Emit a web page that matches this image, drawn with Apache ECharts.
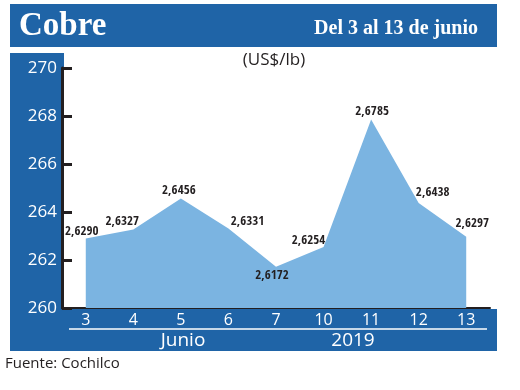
<!DOCTYPE html>
<html><head><meta charset="utf-8">
<script src="https://cdn.jsdelivr.net/npm/echarts@6/dist/echarts.min.js"></script>
<style>html,body{margin:0;padding:0;background:#fff}#c{width:520px;height:390px}</style>
</head><body><div id="c"></div>
<script>
var categories = ['3','4','5','6','7','10','11','12','13'];
var prices = [2.6290, 2.6327, 2.6456, 2.6331, 2.6172, 2.6254, 2.6785, 2.6438, 2.6297];
var yTicks = [260, 262, 264, 266, 268, 270];
var title = 'Cobre';
var subtitle = 'Del 3 al 13 de junio';
var unit = '(US$/lb)';
var monthLabel = 'Junio';
var yearLabel = '2019';
var source = 'Fuente: Cochilco';

// label placement tweaks (style only)
var labelPos = ['top','top','top','top','bottom','top','top','top','top'];
var labelOff = [[-4,2],[-11,1],[-2,1],[19,2],[-4,0],[-15,3],[1,1],[14,-1],[6,-4]];

var BLUE = '#1f64a7';
var AREA = '#7bb4e1';
var labelFont = '"Open Sans Condensed","Roboto Condensed",sans-serif';
var sans = '"Open Sans","Noto Sans",sans-serif';

var seriesData = prices.map(function (p, i) {
  return {
    value: Math.round(p * 100 * 100) / 100,
    label: { show: true, position: labelPos[i], offset: labelOff[i] }
  };
});

var chart = echarts.init(document.getElementById('c'), null, {renderer: 'canvas'});
chart.setOption({
  animation: false,
  backgroundColor: '#fff',
  grid: { left: 62, right: 30, top: 68, bottom: 82 },
  xAxis: {
    type: 'category', data: categories, boundaryGap: true,
    axisLine: { lineStyle: { color: '#231f20', width: 2 } },
    axisTick: { show: false },
    axisLabel: { color: '#fff', fontSize: 16, fontFamily: sans, margin: 4 }
  },
  yAxis: {
    type: 'value', min: yTicks[0], max: yTicks[yTicks.length - 1], interval: 2,
    axisLine: { show: true, lineStyle: { color: '#231f20', width: 3 } },
    axisTick: { show: true, inside: true, length: 10, lineStyle: { color: '#231f20', width: 3 } },
    splitLine: { show: false },
    axisLabel: { color: '#fff', fontSize: 17, fontFamily: sans, margin: 5 }
  },
  series: [{
    type: 'line', data: seriesData, symbol: 'circle', symbolSize: 1, showSymbol: true, z: 3,
    itemStyle: { color: 'rgba(0,0,0,0)', borderWidth: 0 },
    lineStyle: { width: 0, color: AREA },
    areaStyle: { color: AREA, opacity: 1 },
    label: {
      show: true, distance: 2, color: '#231f20', fontSize: 13, fontWeight: 'bold',
      fontFamily: labelFont,
      formatter: function (p) { return prices[p.dataIndex].toFixed(4).replace('.', ','); }
    }
  }],
  graphic: [
    { type: 'rect', z: -1, shape: { x: 10, y: 4, width: 487, height: 43 }, style: { fill: BLUE } },
    { type: 'rect', z: -1, shape: { x: 10, y: 53, width: 54, height: 298 }, style: { fill: BLUE } },
    { type: 'rect', z: -1, shape: { x: 10, y: 309, width: 487, height: 42 }, style: { fill: BLUE } },
    { type: 'text', z: 10, x: 19, y: 26, style: { text: title, fill: '#fff', font: 'bold 33px "Liberation Serif","DejaVu Serif",serif', textVerticalAlign: 'middle', verticalAlign: 'middle' } },
    { type: 'text', z: 10, x: 478, y: 29, style: { text: subtitle, fill: '#fff', font: 'bold 20px "Liberation Serif","DejaVu Serif",serif', textAlign: 'right', align: 'right', textVerticalAlign: 'middle', verticalAlign: 'middle' } },
    { type: 'text', z: 10, x: 274, y: 60, style: { text: unit, fill: '#231f20', font: '17px ' + sans, textAlign: 'center', align: 'center', textVerticalAlign: 'middle', verticalAlign: 'middle' } },
    { type: 'line', z: 10, shape: { x1: 69, y1: 329, x2: 487, y2: 329 }, style: { stroke: '#fff', lineWidth: 1.5 } },
    { type: 'text', z: 10, x: 183, y: 341, style: { text: monthLabel, fill: '#fff', font: '19px ' + sans, textAlign: 'center', align: 'center', textVerticalAlign: 'middle', verticalAlign: 'middle' } },
    { type: 'text', z: 10, x: 353, y: 341, style: { text: yearLabel, fill: '#fff', font: '19px ' + sans, textAlign: 'center', align: 'center', textVerticalAlign: 'middle', verticalAlign: 'middle' } },
    { type: 'text', z: 10, x: 5, y: 364, style: { text: source, fill: '#231f20', font: '15px ' + sans, textVerticalAlign: 'middle', verticalAlign: 'middle' } }
  ]
});
</script></body></html>
